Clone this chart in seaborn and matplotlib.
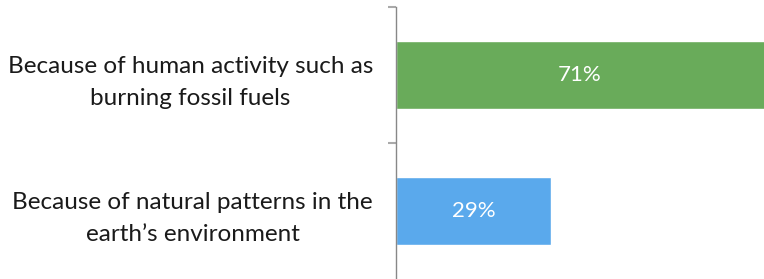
import pandas as pd
import seaborn as sns
import matplotlib.pyplot as plt

# Chart data
categories = ["Because of human activity such as\nburning fossil fuels",
              "Because of natural patterns in the\nearth\u2019s environment"]
values = [71, 29]
labels = ["71%", "29%"]
colors = ["#69ab5a", "#5aa9ec"]

df = pd.DataFrame({"answer": categories, "pct": values})

sns.set_style("white")
plt.rcParams["font.family"] = ["Lato", "DejaVu Sans"]

fig = plt.figure(figsize=(7.64, 2.79), dpi=100)
ax = fig.add_axes([396 / 764, 0, 368 / 764, 272 / 279])

sns.barplot(data=df, x="pct", y="answer", hue="answer", palette=colors,
            orient="h", width=0.5, saturation=1, legend=False, ax=ax)

# Percent labels inside the bars
for cont, lab in zip(ax.containers, labels):
    ax.bar_label(cont, labels=[lab], label_type="center", color="white", fontsize=16)

ax.set_xlim(0, 68.85)
ax.set_ylim(1.5, -0.5)
ax.set_xlabel("")
ax.set_ylabel("")
ax.set_xticks([])

# Category labels, centred lines
ax.set_yticks([0, 1])
ax.set_yticklabels(categories, linespacing=1.65, multialignment="center")
ax.tick_params(axis="y", which="major", left=False, pad=13, labelsize=17.5,
               labelcolor="#1a1a1a")

# Separator ticks between categories
ax.set_yticks([-0.5, 0.5], minor=True)
ax.tick_params(axis="y", which="minor", left=True, length=6, width=1.5, color="#aaaaaa")

for side in ["top", "right", "bottom"]:
    ax.spines[side].set_visible(False)
ax.spines["left"].set_color("#888888")
ax.spines["left"].set_linewidth(1)

fig.savefig("out.png", dpi=100)
